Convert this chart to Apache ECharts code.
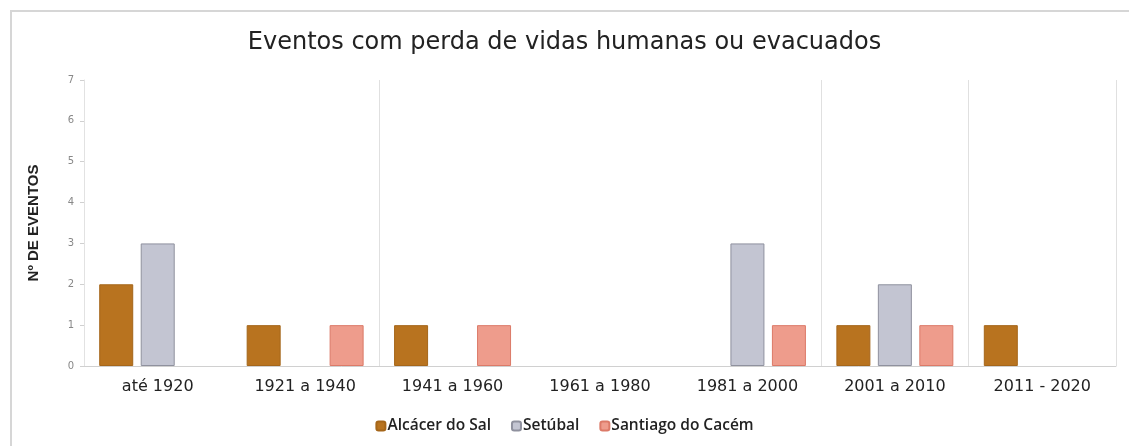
<!DOCTYPE html>
<html><head><meta charset="utf-8">
<script src="https://cdn.jsdelivr.net/npm/echarts@6/dist/echarts.min.js"></script>
<style>html,body{margin:0;padding:0;background:#fff}#c{width:1129px;height:446px}</style>
</head><body><div id="c"></div>
<script>
const categories = ['até 1920','1921 a 1940','1941 a 1960','1961 a 1980','1981 a 2000','2001 a 2010','2011 - 2020'];
const alcacer = [2,1,1,0,0,1,1];
const setubal = [3,0,0,0,3,2,0];
const santiago = [0,1,1,0,1,1,0];
const yTicks = [0,1,2,3,4,5,6,7];
const sepIdx = [2,5,6];

const chart = echarts.init(document.getElementById('c'));
const font = 'DejaVu Sans';
function nz(arr){ return arr.map(v => v === 0 ? null : v); }
chart.setOption({
  animation:false,
  graphic:[{type:'rect',shape:{x:11,y:11,width:1125,height:450},style:{fill:'none',stroke:'#d6d6d6',lineWidth:2},silent:true}],
  title:{text:'Eventos com perda de vidas humanas ou evacuados',left:'center',top:26,
    textStyle:{fontFamily:font,fontSize:24,fontWeight:'normal',color:'#222'}},
  grid:{left:84,right:13,top:80,bottom:80,containLabel:false},
  legend:{bottom:7,left:'center',itemWidth:9,itemHeight:9,itemGap:20,
    textStyle:{fontFamily:'Open Sans',fontSize:15.5,fontWeight:600,color:'#222',padding:[0,0,0,-3]},
    data:['Alcácer do Sal','Setúbal','Santiago do Cacém']},
  xAxis:{type:'category',data:categories,
    axisLine:{lineStyle:{color:'#d0d0d0',width:1}},axisTick:{show:false},
    axisLabel:{fontFamily:font,fontSize:16,color:'#222',margin:13},
    splitLine:{show:true,interval:(i)=>sepIdx.includes(i),lineStyle:{color:'#e0e0e0'}}},
  yAxis:{type:'value',min:0,max:7,interval:1,
    name:'Nº DE EVENTOS',nameLocation:'middle',nameGap:43,nameRotate:90,
    nameTextStyle:{fontFamily:'Liberation Sans',fontSize:15,fontWeight:'bold',color:'#222'},
    axisLine:{show:true,lineStyle:{color:'#e2e2e2'}},axisTick:{show:true,length:4,lineStyle:{color:'#d0d0d0'}},
    axisLabel:{fontFamily:font,fontSize:10,color:'#888',margin:10,formatter:(v)=>yTicks.includes(v)?String(v):''},
    splitLine:{show:false}},
  series:[
    {name:'Alcácer do Sal',type:'bar',data:nz(alcacer),barWidth:34,barGap:'22%',
      itemStyle:{color:'#B8731F',borderColor:'#a5661a',borderWidth:1}},
    {name:'Setúbal',type:'bar',data:nz(setubal),barWidth:34,
      itemStyle:{color:'#C3C5D2',borderColor:'#8f919e',borderWidth:1}},
    {name:'Santiago do Cacém',type:'bar',data:nz(santiago),barWidth:34,
      itemStyle:{color:'#EE9C8C',borderColor:'#dc7a68',borderWidth:1}}
  ]
});
</script></body></html>
